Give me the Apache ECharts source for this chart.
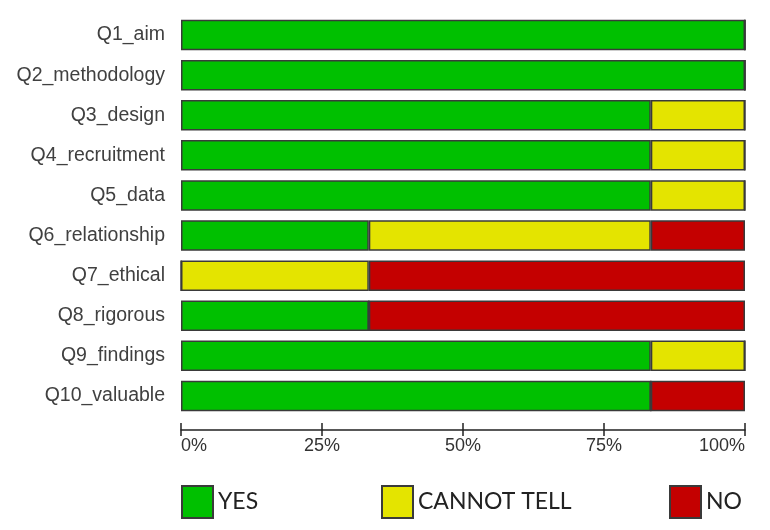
<!DOCTYPE html>
<html><head><meta charset="utf-8">
<script src="https://cdn.jsdelivr.net/npm/echarts@6/dist/echarts.min.js"></script>
<style>html,body{margin:0;padding:0;background:#fff}#c{width:770px;height:530px}</style>
</head><body><div id="c"></div>
<script>
const categories = ['Q1_aim','Q2_methodology','Q3_design','Q4_recruitment','Q5_data','Q6_relationship','Q7_ethical','Q8_rigorous','Q9_findings','Q10_valuable'];
const yesValues = [100,100,83.3,83.3,83.3,33.3,0,33.3,83.3,83.3];
const cannotTellValues = [0,0,16.7,16.7,16.7,50,33.3,0,16.7,0];
const noValues = [0,0,0,0,0,16.7,66.7,66.7,0,16.7];
const xTicks = [0,25,50,75,100];
const seriesNames = ['YES','CANNOT TELL','NO'];
const colors = ['#00c000','#e4e400','#c40000'];

const chart = echarts.init(document.getElementById('c'));
const vals = [yesValues, cannotTellValues, noValues];
const legendLeft = [181, 381, 669];
chart.setOption({
  animation:false,
  grid:{left:181,right:25,top:15,bottom:114},
  xAxis:[{
    type:'value',min:xTicks[0],max:xTicks[xTicks.length-1],interval:25,
    position:'bottom',offset:14,
    axisLine:{show:true,lineStyle:{color:'#222',width:1.5}},
    axisTick:{show:true,inside:true,length:7,lineStyle:{color:'#222',width:1.5}},
    splitLine:{show:false},
    axisLabel:{formatter:'{value}%',color:'#333',fontSize:18,fontFamily:'Liberation Sans',margin:7,alignMinLabel:'left',alignMaxLabel:'right'}
  },{
    type:'value',min:0,max:100,interval:25,position:'bottom',offset:14,
    axisLine:{show:false},
    axisTick:{show:true,inside:false,length:6,lineStyle:{color:'#222',width:1.5}},
    splitLine:{show:false},axisLabel:{show:false}
  }],
  yAxis:{type:'category',data:categories,inverse:true,
    axisLine:{show:false},axisTick:{show:false},
    axisLabel:{color:'#404040',fontSize:19.5,fontFamily:'Liberation Sans',margin:16}},
  legend: seriesNames.map((n,i)=>({data:[n],left:legendLeft[i],top:485,padding:0,itemWidth:31,itemHeight:32,itemGap:6,icon:'rect',
    textStyle:{fontSize:23,fontFamily:'Lato',color:'#222'}})),
  series: seriesNames.map((n,i)=>({name:n,type:'bar',stack:'a',barWidth:'76%',data:vals[i],
    itemStyle:{color:colors[i],borderColor:'#3a3a3a',borderWidth:1.5}}))
});
</script></body></html>
